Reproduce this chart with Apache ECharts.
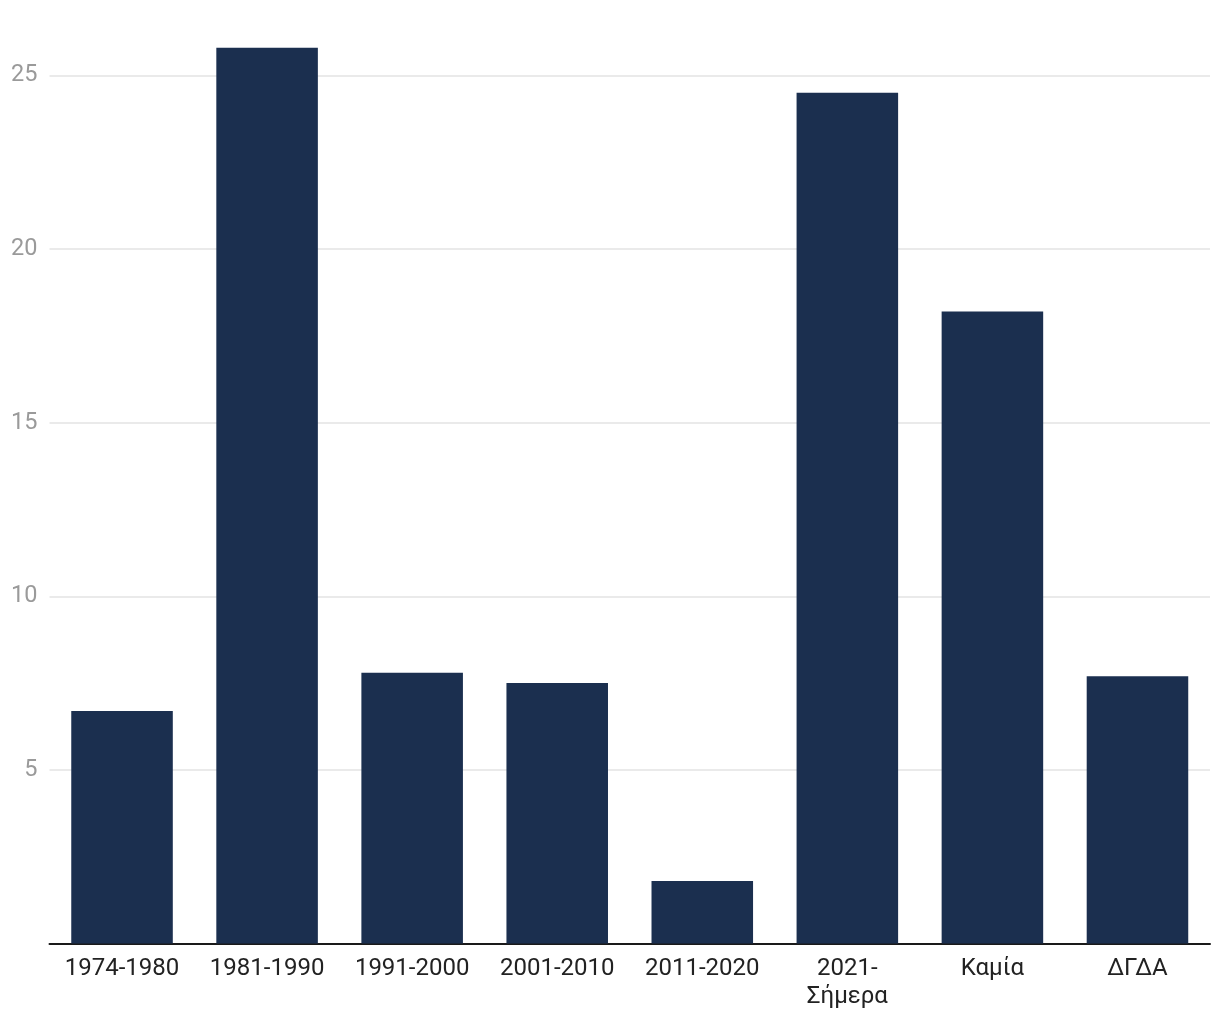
<!DOCTYPE html>
<html>
<head>
<meta charset="utf-8">
<script src="https://cdn.jsdelivr.net/npm/echarts@6/dist/echarts.min.js"></script>
<style>
html,body{margin:0;padding:0;background:#fff;}
#chart{width:1220px;height:1020px;}
</style>
</head>
<body>
<div id="chart"></div>
<script>
const categories = ["1974-1980", "1981-1990", "1991-2000", "2001-2010", "2011-2020", "2021-\nΣήμερα", "Καμία", "ΔΓΔΑ"];
const values = [6.7, 25.8, 7.8, 7.5, 1.8, 24.5, 18.2, 7.7];
const yTicks = [0, 5, 10, 15, 20, 25];

const chart = echarts.init(document.getElementById('chart'), null, {renderer: 'canvas'});
chart.setOption({
  animation: false,
  backgroundColor: '#ffffff',
  grid: {left: 49.5, right: 10, top: 75.5, bottom: 76.5, containLabel: false},
  xAxis: {
    type: 'category',
    data: categories,
    axisLine: {show: true, lineStyle: {color: '#1a1a1a', width: 2}},
    axisTick: {show: false},
    axisLabel: {color: '#222222', fontSize: 24, fontFamily: 'Roboto', margin: 11.5, lineHeight: 28, interval: 0}
  },
  yAxis: {
    type: 'value',
    min: yTicks[0],
    max: yTicks[yTicks.length - 1],
    interval: 5,
    axisLine: {show: false},
    axisTick: {show: false},
    splitLine: {show: true, lineStyle: {color: '#e3e3e3', width: 1.5}},
    axisLabel: {
      color: '#9a9a9a', fontSize: 23.5, fontFamily: 'Roboto', margin: 12,
      showMinLabel: false
    }
  },
  series: [{
    type: 'bar',
    data: values,
    clip: false,
    barCategoryGap: '30%',
    itemStyle: {color: '#1b2f4f'}
  }]
});
</script>
</body>
</html>
